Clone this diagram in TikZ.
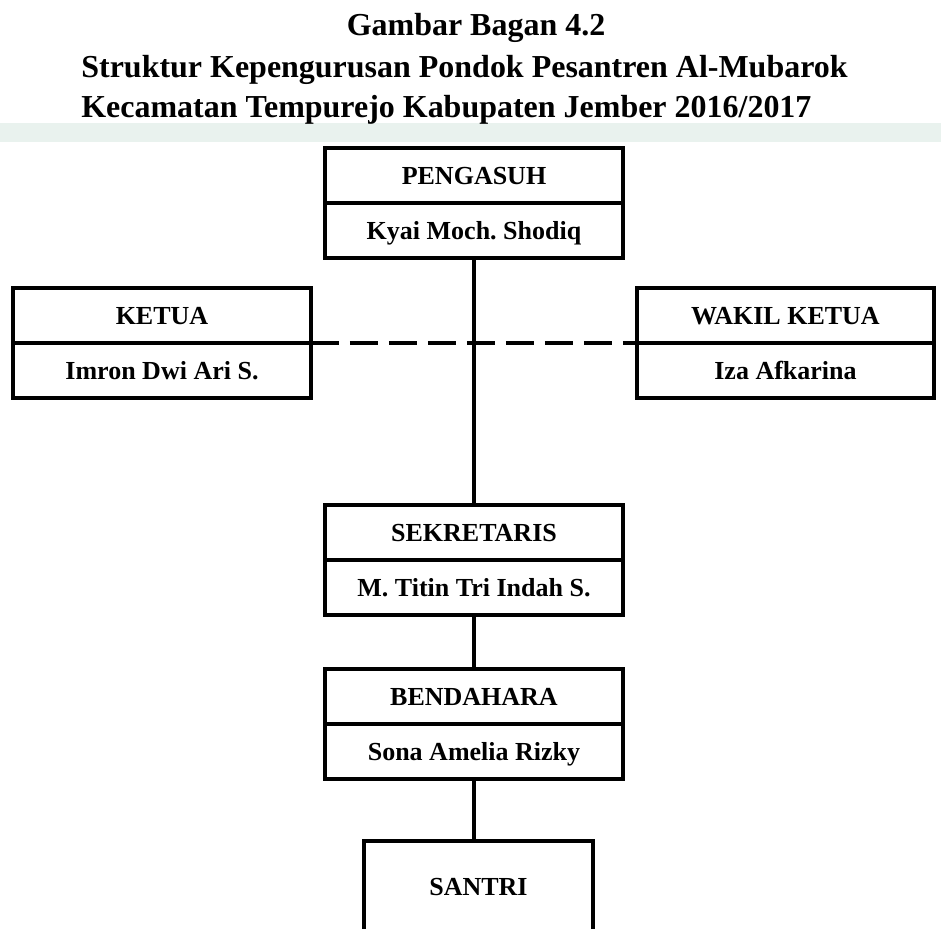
\documentclass[tikz,border=0pt]{standalone}
\usepackage{fontspec}
\setmainfont{Liberation Serif}
\usetikzlibrary{positioning}
\definecolor{tandaair}{RGB}{233,242,238}
\frenchspacing

\tikzset{
  jabatan/.style={draw, line width=1.1pt, minimum width=5.92cm, minimum height=1.06cm,
    inner sep=0pt, text height=9.8pt, text depth=0pt,
    font=\fontsize{14.8pt}{17pt}\selectfont\bfseries},
  santri/.style={jabatan, line width=2.3pt, minimum width=4.58cm, minimum height=1.84cm},
  bingkai/.style={line width=2.3pt},
  garis/.style={line width=2.3pt},
  judul/.style={font=\fontsize{18.2pt}{22pt}\selectfont\bfseries, inner sep=0pt}
}

\begin{document}
\begin{tikzpicture}[x=0.02cm, y=-0.02cm]
    \useasboundingbox (0,0) rectangle (941,929);
    \fill[tandaair] (0,123) rectangle (941,142);

    \node[judul, anchor=base] (gambar) at (476,36) {Gambar Bagan 4.2};
    \node[judul, anchor=base west] (struktur) at (81,78) {Struktur Kepengurusan Pondok Pesantren Al-Mubarok};
    \node[judul, anchor=base west] (kecamatan) at (81,118) {Kecamatan Tempurejo Kabupaten Jember 2016/2017};

    \node[jabatan, anchor=south] (pengasuh) at (474,203) {PENGASUH};
    \node[jabatan, below=0pt of pengasuh] (shodiq) {Kyai Moch. Shodiq};

    \node[jabatan, anchor=south] (ketua) at (162,343) {KETUA};
    \node[jabatan, below=0pt of ketua] (imron) {Imron Dwi Ari S.};

    \node[jabatan, anchor=south] (wakil) at (785.5,343) {WAKIL KETUA};
    \node[jabatan, below=0pt of wakil] (iza) {Iza Afkarina};

    \node[jabatan, anchor=south] (sekretaris) at (474,560) {SEKRETARIS};
    \node[jabatan, below=0pt of sekretaris] (titin) {M. Titin Tri Indah S.};

    \node[jabatan, anchor=south] (bendahara) at (474,724) {BENDAHARA};
    \node[jabatan, below=0pt of bendahara] (sona) {Sona Amelia Rizky};

    \node[santri] (santri) at (478.5,887) {SANTRI};

    \draw[bingkai] (pengasuh.north west) rectangle (shodiq.south east);
    \draw[bingkai] (ketua.north west) rectangle (imron.south east);
    \draw[bingkai] (wakil.north west) rectangle (iza.south east);
    \draw[bingkai] (sekretaris.north west) rectangle (titin.south east);
    \draw[bingkai] (bendahara.north west) rectangle (sona.south east);

    \draw[garis] (shodiq.south) -- (sekretaris.north);
    \draw[garis] (titin.south) -- (bendahara.north);
    \draw[garis] (sona.south) -- (sona.south |- santri.north);
    \draw[garis, dash pattern=on 0.56cm off 0.22cm] (ketua.south east) -- (wakil.south west);

\end{tikzpicture}
\end{document}
